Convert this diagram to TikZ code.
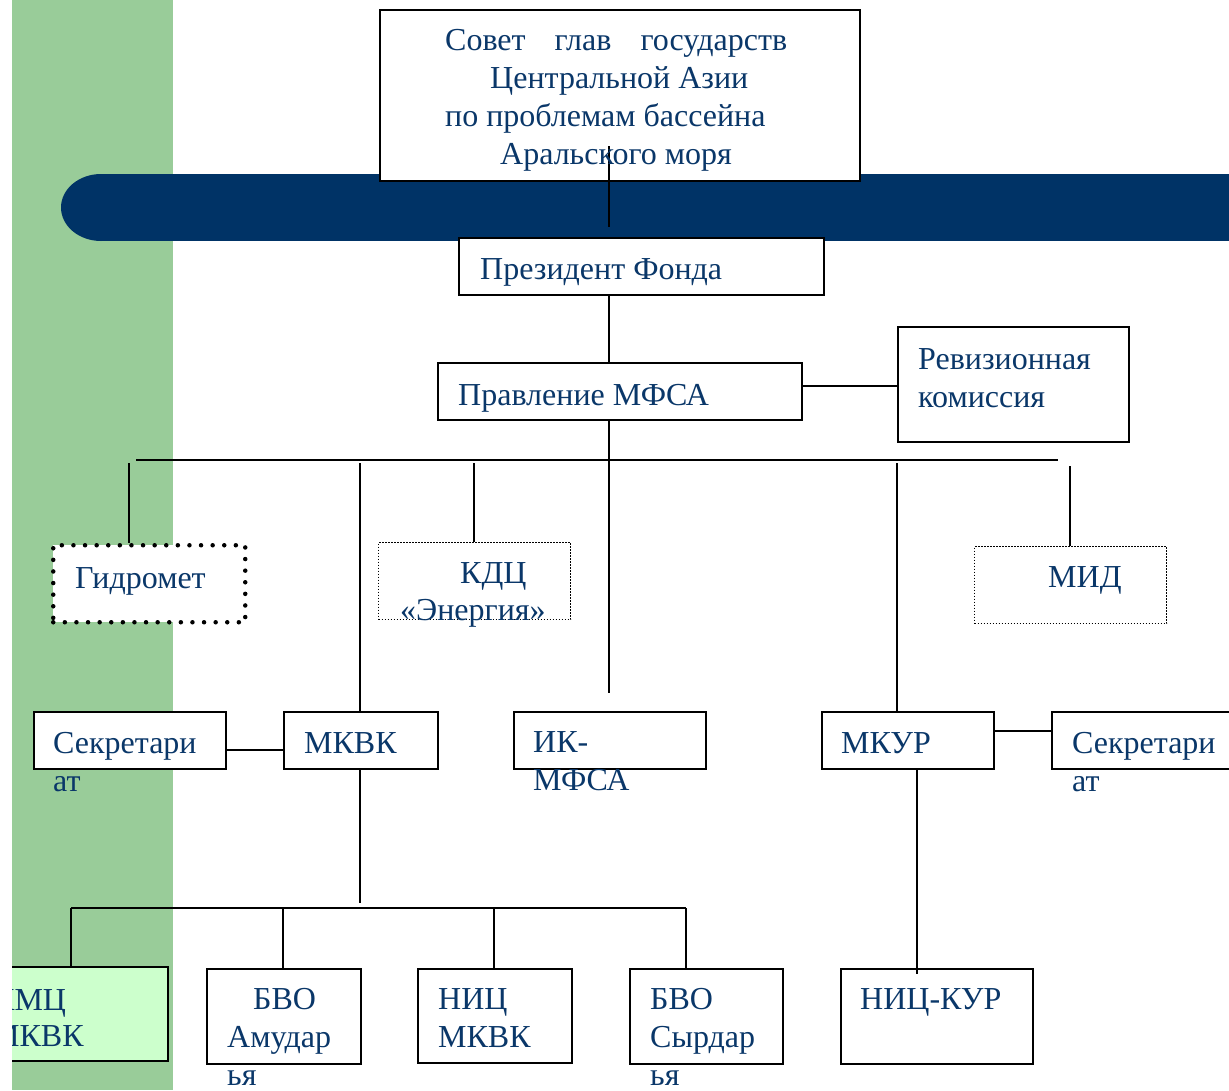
\documentclass[tikz,border=0pt]{standalone}
\usepackage{fontspec}
\setmainfont{Liberation Serif}
\definecolor{txtblue}{RGB}{10,55,105}
\definecolor{navyband}{RGB}{0,51,102}
\definecolor{sidegreen}{RGB}{153,204,153}
\definecolor{paleg}{RGB}{204,255,204}
\tikzset{
  box/.style={draw, line width=1.8pt, fill=white, inner sep=0pt, anchor=north west},
  bigdots/.style={draw, line width=4.5pt, dash pattern=on 0pt off 11.6pt, line cap=round, fill=white, inner sep=0pt, anchor=north west},
  finedots/.style={draw, line width=1.3pt, dash pattern=on 1.3pt off 1.7pt, fill=white, inner sep=0pt, anchor=north west},
  lbl/.style={text=txtblue, font=\fontsize{32}{38}\selectfont, inner sep=0pt, anchor=base west},
  conn/.style={line width=1.8pt}
}
\newcommand\mybox[6]{\node[#2, minimum width=#5pt, minimum height=#6pt] (#1) at (#3,#4) {};}
\newcommand\mytxt[4]{\node[lbl] (#1) at (#2,#3) {#4};}
\begin{document}
\begin{tikzpicture}[x=1pt,y=-1pt]
\useasboundingbox (0,0) rectangle (1229,1090);
\fill[white] (0,0) rectangle (1229,1090);
\begin{scope}
\clip (0,0) rectangle (1229,1090);
% side green band
\fill[sidegreen] (12,0) rectangle (173,1090);
% navy band
\fill[navyband] (101,174) rectangle (1240,241);
\fill[navyband] (101,207.5) ellipse [x radius=40, y radius=33.5];

% boxes
\mybox{top}{box}{379}{9}{480}{171}
\mybox{pres}{box}{458}{237}{365}{57}
\mybox{prav}{box}{437}{362}{364}{57}
\mybox{rev}{box}{897}{326}{231}{115}
\mybox{gidro}{bigdots}{51}{543}{192}{77}
\mybox{kdc}{finedots}{378}{542}{192}{77}
\mybox{mid}{finedots}{974}{546}{192}{77}
\mybox{sekL}{box}{33}{711}{192}{57}
\mybox{mkvk}{box}{283}{711}{154}{57}
\mybox{ik}{box}{513}{711}{192}{57}
\mybox{mkur}{box}{821}{711}{172}{57}
\mybox{sekR}{box}{1051}{711}{190}{57}
\begin{scope}
\clip (12,900) rectangle (400,1090);
\mybox{kmc}{box, fill=paleg}{-20}{966}{187}{94}
\mytxt{tkmc1}{-7}{1010}{КМЦ}
\mytxt{tkmc2}{-9}{1046}{МКВК}
\end{scope}
\mybox{bvoA}{box}{206}{968}{154}{95}
\mybox{nic}{box}{417}{968}{154}{94}
\mybox{bvoS}{box}{629}{968}{153}{95}
\mybox{nickur}{box}{840}{968}{192}{95}

% helper coordinates
\coordinate (t1) at (609,146);
\coordinate (t2) at (609,227);
\coordinate (x609) at (609,0);
\coordinate (ry) at (0,386);
\coordinate (pend) at (609,693);
\coordinate (busL) at (136,460);
\coordinate (busR) at (1058,460);
\coordinate (d1) at (129,463);
\coordinate (d2) at (360,463);
\coordinate (d3) at (474,463);
\coordinate (d4) at (897,463);
\coordinate (d5) at (1070,466);
\coordinate (yl) at (0,750);
\coordinate (yr) at (0,731);
\coordinate (m1) at (360,903);
\coordinate (b2L) at (71,908);
\coordinate (b2R) at (686,908);
\coordinate (e1) at (71,908);
\coordinate (e2) at (283,908);
\coordinate (e3) at (494,908);
\coordinate (e4) at (686,908);
\coordinate (x917) at (917,0);
\coordinate (kend) at (917,974);

% connectors
\draw[conn] (t1) -- (t2);
\draw[conn] (pres.south -| x609) -- (prav.north -| x609);
\draw[conn] (prav.east |- ry) -- (rev.west |- ry);
\draw[conn] (prav.south -| x609) -- (pend);
\draw[conn] (busL) -- (busR);
\draw[conn] (d1) -- (gidro.north -| d1);
\draw[conn] (d2) -- (mkvk.north -| d2);
\draw[conn] (d3) -- (kdc.north -| d3);
\draw[conn] (d4) -- (mkur.north -| d4);
\draw[conn] (d5) -- (mid.north -| d5);
\draw[conn] (sekL.east |- yl) -- (mkvk.west |- yl);
\draw[conn] (mkur.east |- yr) -- (sekR.west |- yr);
\draw[conn] (mkvk.south -| m1) -- (m1);
\draw[conn] (b2L) -- (b2R);
\draw[conn] (e1) -- (kmc.north -| e1);
\draw[conn] (e2) -- (bvoA.north -| e2);
\draw[conn] (e3) -- (nic.north -| e3);
\draw[conn] (e4) -- (bvoS.north -| e4);
\draw[conn] (mkur.south -| x917) -- (kend);

% texts
\mytxt{tt1}{445}{50}{\makebox[342pt][s]{Совет\hfill глав\hfill государств}}
\mytxt{tt2}{490}{88}{Центральной Азии}
\mytxt{tt3}{445}{126}{по проблемам бассейна}
\mytxt{tt4}{500}{164}{Аральского моря}
\mytxt{tpres}{480}{279}{Президент Фонда}
\mytxt{tprav}{458}{405}{Правление МФСА}
\mytxt{trev1}{918}{369}{Ревизионная}
\mytxt{trev2}{918}{407}{комиссия}
\mytxt{tgid}{75}{588}{Гидромет}
\mytxt{tkdc1}{460}{583}{КДЦ}
\mytxt{tkdc2}{400}{620}{«Энергия»}
\mytxt{tmid}{1048}{587}{МИД}
\mytxt{tsl1}{53}{753}{Секретари}
\mytxt{tsl2}{53}{791}{ат}
\mytxt{tmkvk}{304}{753}{МКВК}
\mytxt{tik1}{533}{752}{ИК-}
\mytxt{tik2}{533}{790}{МФСА}
\mytxt{tmkur}{841}{753}{МКУР}
\mytxt{tsr1}{1072}{753}{Секретари}
\mytxt{tsr2}{1072}{791}{ат}
\mytxt{tba1}{253}{1009}{БВО}
\mytxt{tba2}{227}{1047}{Амудар}
\mytxt{tba3}{227}{1085}{ья}
\mytxt{tnic1}{438}{1009}{НИЦ}
\mytxt{tnic2}{438}{1047}{МКВК}
\mytxt{tbs1}{650}{1009}{БВО}
\mytxt{tbs2}{650}{1047}{Сырдар}
\mytxt{tbs3}{650}{1085}{ья}
\mytxt{tnk}{860}{1009}{НИЦ-КУР}
\end{scope}
\end{tikzpicture}
\end{document}
